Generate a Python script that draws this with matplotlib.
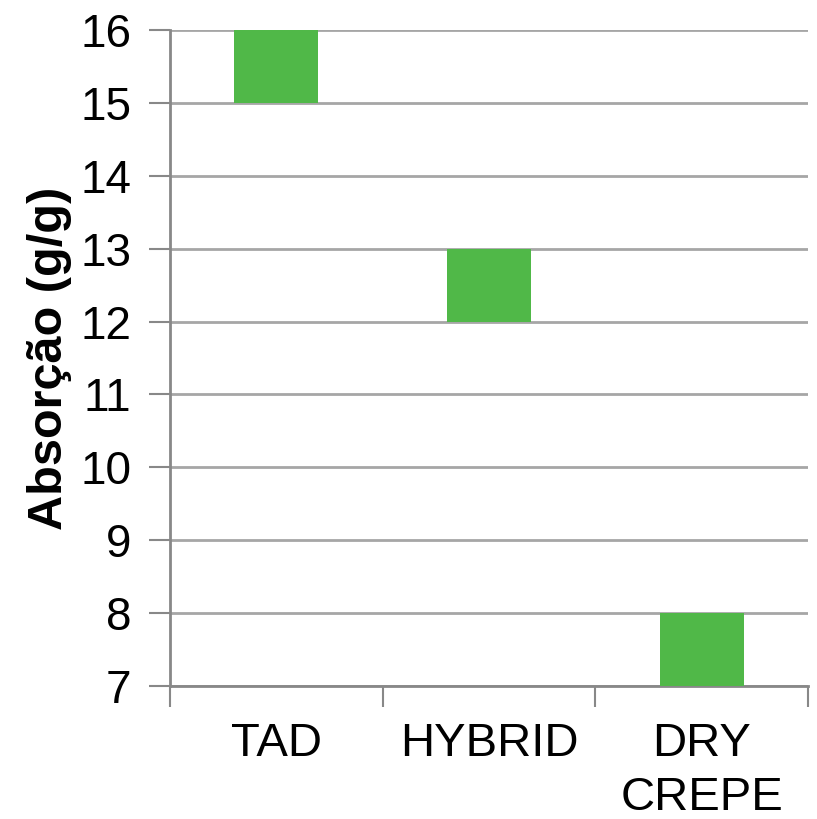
import matplotlib.pyplot as plt
import numpy as np

categories = ['TAD', 'HYBRID', 'DRY\nCREPE']
low_values = [15, 12, 7]
high_values = [16, 13, 8]
y_ticks = [7, 8, 9, 10, 11, 12, 13, 14, 15, 16]

plt.rcParams['font.family'] = ['Liberation Sans', 'DejaVu Sans']

fig = plt.figure(figsize=(8.17, 8.19), dpi=100)
ax = fig.add_axes([0.2081, 0.1624, 0.7809, 0.801])

x = np.arange(len(categories))
heights = [h - l for h, l in zip(high_values, low_values)]
ax.bar(x, heights, bottom=low_values, width=0.395, color='#50B848', zorder=3)

ax.set_xlim(-0.5, len(categories) - 0.5)
ax.set_ylim(7, 16)
ax.set_yticks(y_ticks)
ax.tick_params(axis='y', labelsize=33, length=15, width=1.5, color='#888888', pad=13)
ax.yaxis.grid(True, color='#A6A6A6', linewidth=2, zorder=0)

ax.set_xticks(x)
ax.set_xticklabels(categories)
ax.set_xticks(np.arange(len(categories) + 1) - 0.5, minor=True)
ax.tick_params(axis='x', which='major', length=0, labelsize=34, pad=26)
ax.tick_params(axis='x', which='minor', length=15, width=1.5, color='#888888')
for lbl in ax.get_xticklabels():
    lbl.set_linespacing(1.3)
    lbl.set_verticalalignment('top')

ax.set_ylabel('Absorção (g/g)', fontsize=35, fontweight='bold', labelpad=6)

for side in ['top', 'right']:
    ax.spines[side].set_visible(False)
ax.spines['left'].set_color('#888888')
ax.spines['left'].set_linewidth(2)
ax.spines['bottom'].set_color('#888888')
ax.spines['bottom'].set_linewidth(2)

fig.savefig('out.png', dpi=100)
